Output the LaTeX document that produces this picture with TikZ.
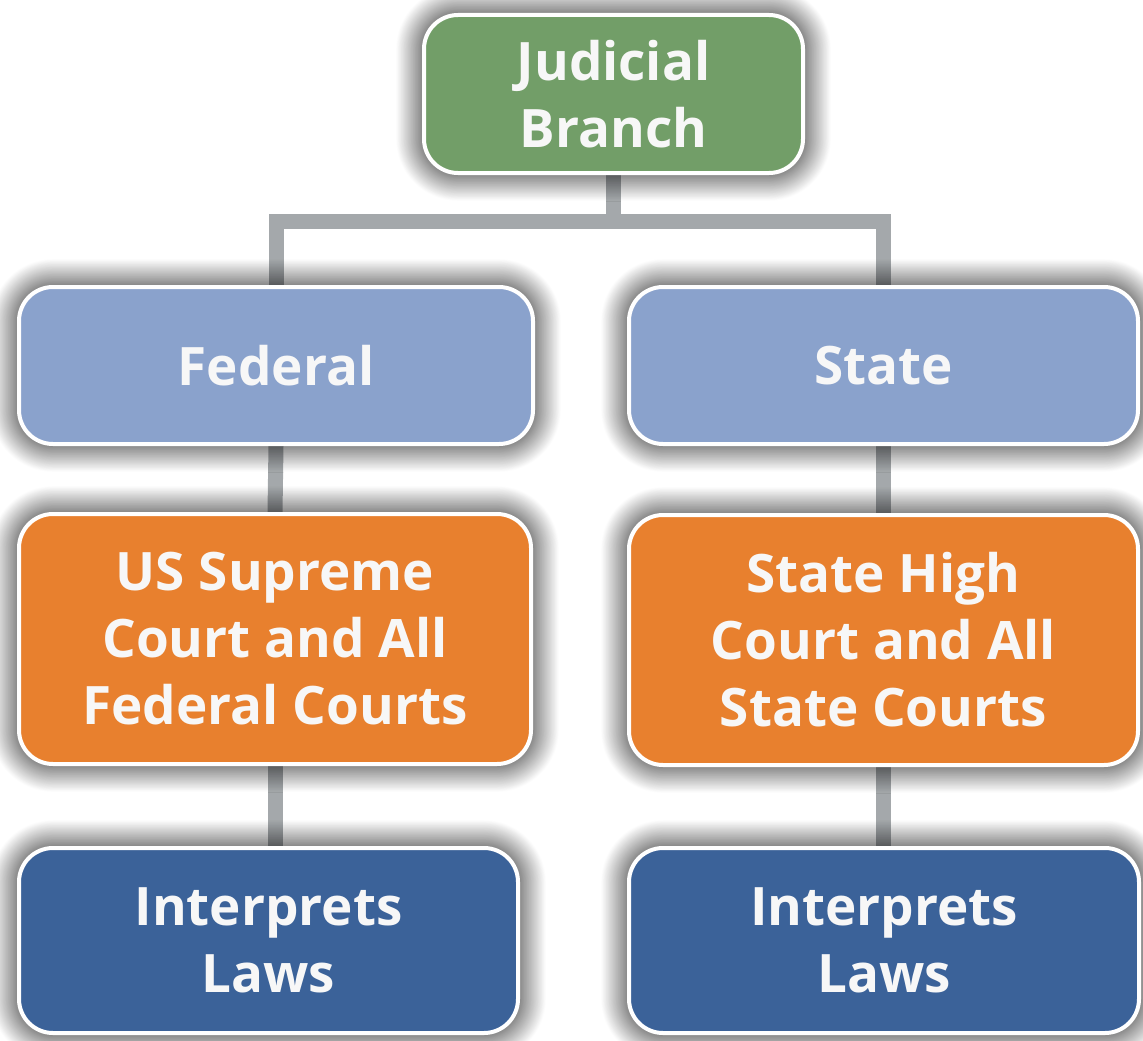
\documentclass[tikz,border=0pt]{standalone}
\usepackage{fontspec}
\setmainfont{Open Sans}
\usetikzlibrary{shadows.blur,backgrounds}
\definecolor{jgreen}{RGB}{114,158,104}
\definecolor{lblue}{RGB}{138,162,204}
\definecolor{corange}{RGB}{232,128,46}
\definecolor{dblue}{RGB}{59,98,153}
\definecolor{conngray}{RGB}{164,168,171}
\tikzset{
  box/.style={draw=white, line width=4pt, rounded corners=34pt, inner sep=0pt,
    text=white!97!black, align=center,
    font=\fontsize{53}{67}\selectfont\bfseries,
    blur shadow={shadow xshift=0pt, shadow yshift=0pt, shadow blur radius=28pt, shadow opacity=100, shadow blur steps=40}},
  conn/.style={draw=conngray, line width=15pt},
}
\begin{document}
\begin{tikzpicture}[x=1pt,y=-1pt]
\useasboundingbox (0,0) rectangle (1143,1041);
\node[box, fill=jgreen, minimum width=379pt, minimum height=158pt] (J) at (613.5,94) {Judicial\\Branch};
\node[box, fill=lblue, minimum width=514pt, minimum height=157pt] (F) at (276,365.5) {Federal};
\node[box, fill=lblue, minimum width=509pt, minimum height=157pt] (S) at (883.5,365.5) {State};
\node[box, fill=corange, minimum width=512pt, minimum height=250pt] (USC) at (275,639) {US Supreme\\Court and All\\Federal Courts};
\node[box, fill=corange, minimum width=509pt, minimum height=250pt] (SHC) at (883.5,640) {State High\\Court and All\\State Courts};
\node[box, fill=dblue, minimum width=499pt, minimum height=185pt] (IL) at (268.5,940.5) {Interprets\\Laws};
\node[box, fill=dblue, minimum width=510pt, minimum height=185pt] (IR) at (884,940.5) {Interprets\\Laws};
\coordinate (bar) at (0,221.5);
\begin{pgfonlayer}{background}
\draw[conn] (J.south) -- (J.south |- bar);
\draw[conn] (F.north) -- (F.north |- bar) -- (S.north |- bar) -- (S.north);
\draw[conn] (F.south) -- (USC.north);
\draw[conn] (S.south) -- (S.south |- SHC.north);
\draw[conn] (USC.south) -- (USC.south |- IL.north);
\draw[conn] (SHC.south) -- (SHC.south |- IR.north);
\end{pgfonlayer}
\end{tikzpicture}
\end{document}
